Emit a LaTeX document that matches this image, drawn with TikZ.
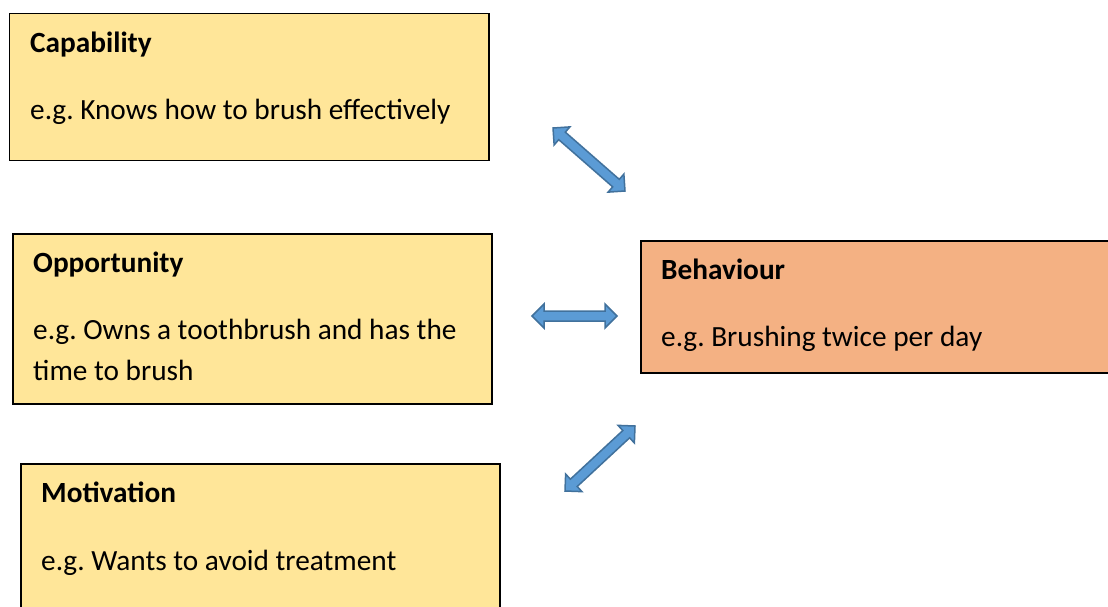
\documentclass[tikz,border=0pt]{standalone}
\usepackage{fontspec}
\setmainfont{Carlito}
\frenchspacing
\usetikzlibrary{calc}
\definecolor{boxyellow}{HTML}{FFE699}
\definecolor{boxorange}{HTML}{F4B183}
\definecolor{arrowblue}{HTML}{5B9BD5}
\definecolor{arrowedge}{HTML}{41719C}
\tikzset{
  cbox/.style={draw=black, line width=1.5pt, fill=boxyellow, anchor=north west, inner sep=0pt},
  title/.style={font=\bfseries\fontsize{29.3}{41}\selectfont, anchor=base west, inner sep=0pt},
  body/.style={font=\fontsize{29.3}{41}\selectfont, anchor=base west, inner sep=0pt, align=left},
  arrowshape/.style={fill=arrowblue, draw=arrowedge, line width=1.5pt, line join=miter}
}
% two-headed block arrow between two coordinates
\newcommand{\dblarrow}[2]{%
  \draw[arrowshape] (#1)
    -- ($(#1)!12pt!(#2)!12pt!90:(#2)$) -- ($(#1)!12pt!(#2)!5pt!90:(#2)$)
    -- ($(#2)!12pt!(#1)!5pt!-90:(#1)$) -- ($(#2)!12pt!(#1)!12pt!-90:(#1)$)
    -- (#2)
    -- ($(#2)!12pt!(#1)!12pt!90:(#1)$) -- ($(#2)!12pt!(#1)!5pt!90:(#1)$)
    -- ($(#1)!12pt!(#2)!5pt!-90:(#2)$) -- ($(#1)!12pt!(#2)!12pt!-90:(#2)$)
    -- cycle;}

\begin{document}
\begin{tikzpicture}[x=1pt, y=-1pt]
    \useasboundingbox (0,0) rectangle (1108,606);
    \clip (0,0) rectangle (1108,606);
    % boxes
    \node[cbox, minimum width=479.5pt, minimum height=147pt] (cap) at (8.5,12.5) {};
    \node[cbox, minimum width=479pt, minimum height=170pt] (opp) at (12,233) {};
    \node[cbox, minimum width=479pt, minimum height=160pt] (mot) at (20,463) {};
    \node[cbox, fill=boxorange, minimum width=480pt, minimum height=132pt] (beh) at (640,240) {};
    % texts
    \node[title] (captitle) at ([shift={(21.5,39.5)}]cap.north west) {Capability};
    \node[body] (captext) at ([shift={(0,67)}]captitle.base west) {e.g. Knows how to brush effectively};
    \node[title] (opptitle) at ([shift={(21,39.5)}]opp.north west) {Opportunity};
    % base of a two-line node sits on its last line
    \node[body] (opptext) at ([shift={(0,108)}]opptitle.base west) {e.g. Owns a toothbrush and has the\\time to brush};
    \node[title] (mottitle) at ([shift={(21,39.5)}]mot.north west) {Motivation};
    \node[body] (mottext) at ([shift={(0,67.5)}]mottitle.base west) {e.g. Wants to avoid treatment};
    \node[title] (behtitle) at ([shift={(21,39)}]beh.north west) {Behaviour};
    \node[body] (behtext) at ([shift={(0,67)}]behtitle.base west) {e.g. Brushing twice per day};
    % arrows
    \coordinate (a1) at (553,128);
    \coordinate (b1) at (625,191);
    \coordinate (a2) at (532,316);
    \coordinate (b2) at (617,316);
    \coordinate (a3) at (565,491);
    \coordinate (b3) at (635,426);
    \dblarrow{a1}{b1}
    \dblarrow{a2}{b2}
    \dblarrow{a3}{b3}
\end{tikzpicture}
\end{document}
